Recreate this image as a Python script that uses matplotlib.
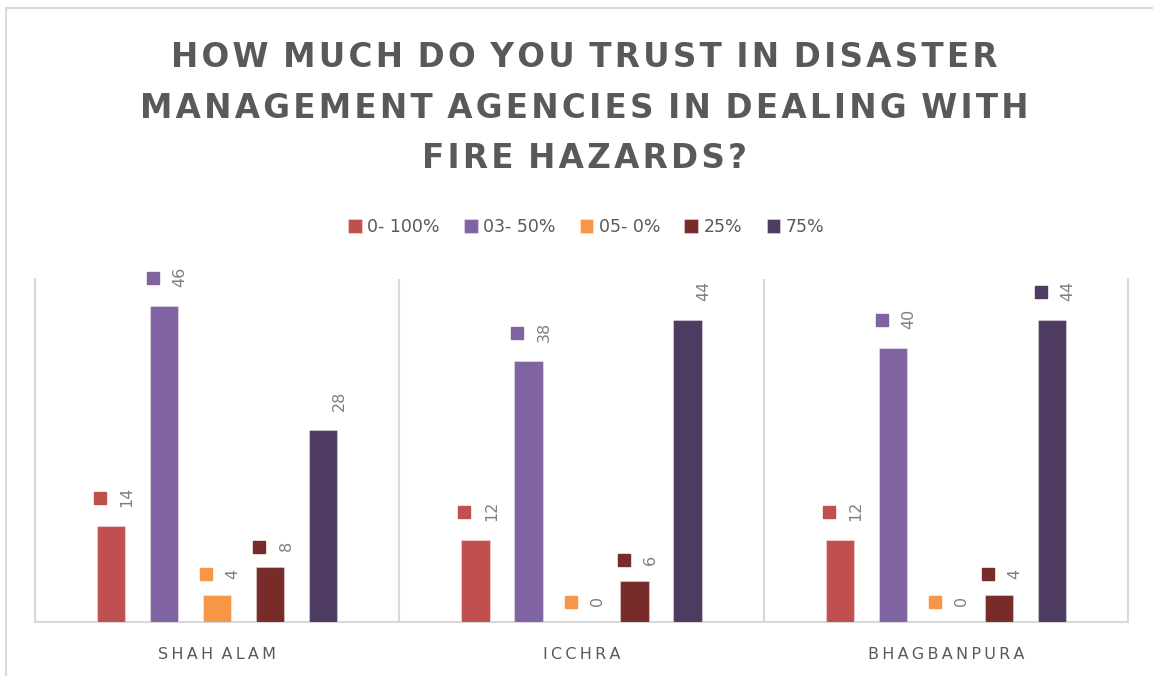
import matplotlib.pyplot as plt
import matplotlib.transforms as mtransforms
from matplotlib.patches import Rectangle
import numpy as np

# survey answers per locality
localities = ["SHAH ALAM", "ICCHRA", "BHAGBANPURA"]
responses = ["0- 100%", "03- 50%", "05- 0%", "25%", "75%"]
resp_0_100 = [14, 12, 12]
resp_03_50 = [46, 38, 40]
resp_05_0 = [4, 0, 0]
resp_25 = [8, 6, 4]
resp_75 = [28, 44, 44]
# whether the data label carries its legend key
key_shown = [
    [True, True, True],
    [True, True, True],
    [True, True, True],
    [True, True, True],
    [False, False, True],
]

series = [resp_0_100, resp_03_50, resp_05_0, resp_25, resp_75]
colors = ["#C0504D", "#8064A2", "#F79646", "#772C2A", "#4D3B62"]

TEXT = "#595959"
LABEL = "#7F7F7F"
GRID = "#D9D9D9"


def spaced(s, sep="\u200a"):
    # letter-spaced caps, word gaps widened to match
    return (sep + " ").join(sep.join(w) for w in s.split(" "))


fig = plt.figure(figsize=(11.53, 6.76), dpi=100)
fig.patches.append(Rectangle((6 / 1153, -0.1), 1.2, (676 - 8) / 676 + 0.1,
                             transform=fig.transFigure, fill=False,
                             edgecolor=GRID, linewidth=1.5, zorder=0))

ax = fig.add_axes([35 / 1153, 54 / 676, 1093 / 1153, 343 / 676])

x = np.arange(len(localities))
step = 0.1455
width = 0.078
for i, (vals, col, name) in enumerate(zip(series, colors, responses)):
    pos = x + (i - 2) * step
    ax.bar(pos, vals, width, color=col, edgecolor=(1, 1, 1, 0.35),
           linewidth=0.8, label=name, zorder=3)
    for j, (px, v) in enumerate(zip(pos, vals)):
        txt = str(v)
        gap = 13 + 3 * len(txt)
        off = mtransforms.ScaledTranslation(16 / 100, gap / 100, fig.dpi_scale_trans)
        ax.text(px, v, txt, rotation=90, ha="center", va="bottom",
                fontsize=11.5, color=LABEL, transform=ax.transData + off,
                clip_on=False)
        if key_shown[i][j]:
            mid = gap + 4.5 * len(txt)
            koff = mtransforms.ScaledTranslation(-11 / 100, mid / 100, fig.dpi_scale_trans)
            ax.plot([px], [v], marker="s", markersize=8.2, color=col,
                    linestyle="none", transform=ax.transData + koff,
                    zorder=4, clip_on=False)

ax.set_xlim(-0.5, 2.5)
ax.set_ylim(0, 50)
ax.set_yticks([])
ax.set_xticks(x)
ax.set_xticklabels([spaced(c, "\u2009") for c in localities], color=TEXT, fontsize=11.5)
ax.tick_params(axis="x", length=0, pad=18)

# category separators
for b in [0.5, 1.5]:
    ax.axvline(b, color=GRID, linewidth=1.5, zorder=1)
ax.spines["top"].set_visible(False)
for s in ["left", "right", "bottom"]:
    ax.spines[s].set_color(GRID)
    ax.spines[s].set_linewidth(1.5)

title_lines = ["HOW MUCH DO YOU TRUST IN DISASTER",
               "MANAGEMENT AGENCIES IN DEALING WITH",
               "FIRE HAZARDS?"]
title = "\n".join(spaced(t) for t in title_lines)
fig.text(0.507, 1 - 108 / 676, title, ha="center", va="center", fontsize=23.5,
         fontweight="bold", color=TEXT, linespacing=1.66)

fig.legend(loc="center", bbox_to_anchor=(586 / 1153, 1 - 227 / 676), ncol=5,
           frameon=False, fontsize=12.5, labelcolor=TEXT, handlelength=0.8,
           handleheight=0.8, handletextpad=0.3, columnspacing=1.4)

fig.savefig("out.png", dpi=100)
